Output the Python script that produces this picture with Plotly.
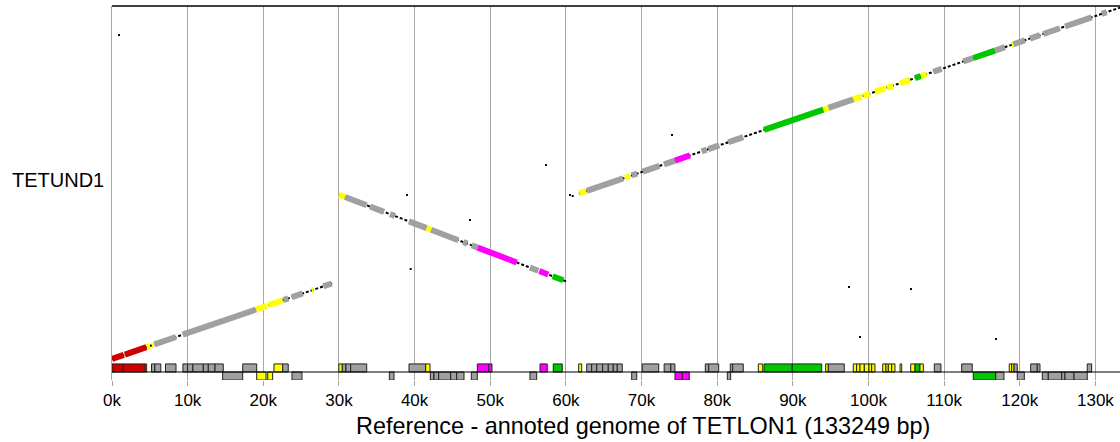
import plotly.graph_objects as go

# ---------------- data ----------------
ref_length = 133249
ref_title = "Reference - annoted genome of TETLON1 (133249 bp)"
query_name = "TETUND1"
query_label_pos = 68800

tick_vals = [0, 10000, 20000, 30000, 40000, 50000, 60000, 70000, 80000, 90000, 100000, 110000, 120000, 130000]
tick_text = ["0k", "10k", "20k", "30k", "40k", "50k", "60k", "70k", "80k", "90k", "100k", "110k", "120k", "130k"]

# synteny blocks (reference bp -> query bp)
block_ref_start = [0, 30010, 61730]
block_ref_end = [29100, 60100, 133249]
block_q_start = [0, 63200, 63630]
block_q_end = [29100, 29790, 135150]

# gene annotation track of the reference (start, end, strand, class)
ann_start = [0, 1490, 4400, 5220, 5660, 7070, 9370, 9980, 10690, 12070, 12730, 13620, 17280,
             21410, 22560, 29990, 30440, 30930, 31550, 39260, 41470, 48290, 49800, 56580, 58330,
             61690, 62750, 63410, 64070, 64860, 65600, 66260, 66790, 70100, 72990, 73880,
             78430, 78880, 81730, 82050, 85440, 86190, 89930, 94340, 94690,
             97990, 98440, 98880, 99450, 100070, 100420, 101880, 102310, 102620, 103070,
             104170, 105580, 106150, 106810, 108700, 112320, 118610, 118930, 119240,
             121440, 122310, 128920,
             14630, 19130, 20580, 23790, 36660, 42080, 42560, 43190, 44770, 45560, 47500,
             55250, 68700, 74420, 75380, 81340, 113850, 116820, 119670,
             122980, 123770, 125540, 125980, 127170]
ann_end = [1490, 4400, 4580, 5660, 6450, 8460, 9980, 10690, 12070, 12730, 13620, 14710, 19130,
           22560, 23300, 30440, 30930, 31550, 33670, 41470, 42040, 49800, 50230, 57540, 59520,
           62090, 63410, 64070, 64860, 65600, 66260, 66790, 67450, 72270, 73880, 74410,
           78880, 80200, 82050, 83450, 86020, 89930, 93820, 94690, 96800,
           98440, 98880, 99450, 100070, 100420, 100860, 102310, 102620, 103070, 103500,
           104390, 106150, 106810, 107250, 109580, 113720, 118930, 119240, 119670,
           122310, 122670, 129500,
           17280, 20360, 21240, 25110, 37280, 42560, 43190, 44770, 45560, 46530, 48290,
           56140, 69360, 75380, 76310, 81780, 116820, 117910, 120600,
           123770, 125540, 125980, 127170, 128920]
ann_strand = [1] * 67 + [-1] * 24
ann_class = ["red", "red", "yellow", "grey", "grey", "grey", "grey", "grey", "grey", "grey", "grey", "grey", "grey",
             "yellow", "grey", "yellow", "grey", "grey", "grey", "grey", "yellow", "magenta", "magenta", "magenta", "green",
             "yellow", "grey", "grey", "grey", "grey", "grey", "grey", "grey", "grey", "grey", "grey",
             "grey", "grey", "grey", "grey", "yellow", "green", "green", "yellow", "grey",
             "yellow", "yellow", "yellow", "yellow", "yellow", "yellow", "yellow", "yellow", "yellow", "yellow",
             "yellow", "yellow", "green", "yellow", "grey", "grey", "yellow", "yellow", "grey",
             "grey", "grey", "grey",
             "grey", "yellow", "yellow", "grey", "grey", "grey", "grey", "grey", "grey", "grey", "grey",
             "grey", "grey", "magenta", "magenta", "grey", "green", "grey", "grey",
             "grey", "grey", "grey", "grey", "grey"]

# gene matches drawn on the diagonal (reference bp, query bp, class)
diag_ref_start = [0, 1700, 4590, 5250, 5590, 9350, 19040, 20660, 22640, 23750, 26400, 27930,
                  30010, 30800, 34110, 36750, 39260, 41600, 42170, 46440, 47550, 48340, 55250, 56480, 58250,
                  61770, 62750, 67810, 68700, 70150, 72970, 74420, 77950, 78830, 81470, 86190, 94030, 94690,
                  97990, 99310, 100860, 102410, 104170, 106150, 106900, 108570, 112540, 113860, 116720,
                  118930, 119140, 121350, 123110, 125980, 130830]
diag_ref_end = [1550, 4550, 5020, 5460, 8460, 19040, 20450, 22560, 23300, 25210, 26610, 29040,
                30800, 33670, 35960, 37410, 41600, 42170, 45780, 46970, 48340, 53500, 56350, 57670, 59660,
                62660, 67590, 68480, 69440, 72350, 74420, 76400, 78610, 80280, 83450, 94030, 94690, 97990,
                99100, 100200, 102180, 103280, 105490, 106900, 107690, 109680, 113860, 116720, 118040,
                119140, 120690, 122670, 125310, 129500, 131490]
diag_q_start = [0, 1700, 4590, 5250, 5590, 9350, 19040, 20660, 22640, 23750, 26400, 27930,
                63200, 62320, 58650, 55720, 52930, 50340, 49700, 44960, 43730, 42850, 35180, 33820, 31850,
                63670, 64650, 69710, 70600, 72050, 74870, 76320, 79850, 80730, 83370, 88090, 95930, 96590,
                99890, 101210, 102760, 104310, 106070, 108050, 108800, 110470, 114440, 115760, 118620,
                120830, 121040, 123250, 125010, 127880, 132730]
diag_q_end = [1550, 4550, 5020, 5460, 8460, 19040, 20450, 22560, 23300, 25210, 26610, 29040,
              62320, 59140, 56600, 54990, 50340, 49700, 45700, 44370, 42850, 37130, 33960, 32500, 30290,
              64560, 69490, 70380, 71340, 74250, 76320, 78300, 80510, 82180, 85350, 95930, 96590, 99890,
              101000, 102100, 104080, 105180, 107390, 108800, 109590, 111580, 115760, 118620, 119940,
              121040, 122590, 124570, 127210, 131400, 133390]
diag_class = ["red", "red", "yellow", "yellow", "grey", "grey", "yellow", "yellow", "grey", "grey", "yellow", "grey",
              "yellow", "grey", "grey", "grey", "grey", "yellow", "grey", "grey", "grey", "magenta", "grey", "magenta", "green",
              "yellow", "grey", "yellow", "grey", "grey", "grey", "magenta", "grey", "grey", "grey", "green", "yellow", "grey",
              "yellow", "yellow", "yellow", "yellow", "yellow", "green", "yellow", "grey", "grey", "green", "grey",
              "yellow", "grey", "grey", "grey", "grey", "grey"]

# isolated short matches
dot_ref = [930, 39000, 47320, 39480, 57370, 74030, 60540, 60900, 97420, 105620, 98880, 116850]
dot_q = [124600, 63100, 53460, 34600, 74600, 86150, 63080, 62690, 27700, 26900, 8460, 7700]

# ---------------- style ----------------
COLORS = {"red": "#CC0000", "grey": "#A0A0A0", "yellow": "#FFFF00",
          "magenta": "#FF00FF", "green": "#00C800"}
FONT = "Liberation Sans, Arial, sans-serif"
GRID = "#A8A8A8"
TRACK_CENTER = -5000
TRACK_HALF = 3100
Y_RANGE = [-8080, 135770]

fig = go.Figure()

# block alignment lines (dashed black)
for rs, re_, qs, qe in zip(block_ref_start, block_ref_end, block_q_start, block_q_end):
    fig.add_trace(go.Scatter(x=[rs, re_], y=[qs, qe], mode="lines",
                             line=dict(color="black", width=2, dash="3px,2px"),
                             hoverinfo="skip", showlegend=False))

# coloured gene matches on the diagonal
for cls, col in COLORS.items():
    xs, ys = [], []
    for a, b, c, d, k in zip(diag_ref_start, diag_ref_end, diag_q_start, diag_q_end, diag_class):
        if k == cls:
            xs += [a, b, None]
            ys += [c, d, None]
    if xs:
        fig.add_trace(go.Scatter(x=xs, y=ys, mode="lines",
                                 line=dict(color=col, width=6),
                                 hoverinfo="skip", showlegend=False))

# isolated dots
fig.add_trace(go.Scatter(x=dot_ref, y=dot_q, mode="markers",
                         marker=dict(color="black", size=2, symbol="square"),
                         hoverinfo="skip", showlegend=False))

# annotation track
shapes = []
for s, e, st, k in zip(ann_start, ann_end, ann_strand, ann_class):
    y0 = TRACK_CENTER
    y1 = TRACK_CENTER + st * TRACK_HALF
    shapes.append(dict(type="rect", xref="x", yref="y", x0=s, x1=e,
                       y0=min(y0, y1), y1=max(y0, y1),
                       fillcolor=COLORS[k], line=dict(color="#222222", width=1), layer="above"))
shapes.append(dict(type="line", xref="x", yref="y", x0=0, x1=ref_length,
                   y0=TRACK_CENTER, y1=TRACK_CENTER, line=dict(color="black", width=1)))
shapes.append(dict(type="line", xref="paper", yref="paper", x0=0, x1=1, y0=1, y1=1,
                   line=dict(color="black", width=1.5)))

fig.update_layout(
    width=1120, height=442,
    margin=dict(l=112, r=0, t=6, b=62),
    paper_bgcolor="white", plot_bgcolor="white",
    shapes=shapes,
    font=dict(family=FONT, color="black"),
    xaxis=dict(range=[0, ref_length], tickvals=tick_vals, ticktext=tick_text,
               showgrid=True, gridcolor=GRID, gridwidth=1, zeroline=False,
               ticks="outside", ticklen=5, tickcolor=GRID, showline=False,
               tickfont=dict(size=17, family=FONT, color="black")),
    yaxis=dict(range=Y_RANGE, showgrid=False, zeroline=False, showticklabels=False,
               ticks="", showline=True, linecolor=GRID, linewidth=1),
    annotations=[
        dict(text=query_name, xref="paper", yref="y", x=0, y=query_label_pos,
             xanchor="right", yanchor="middle", xshift=-6, showarrow=False,
             font=dict(size=20, family=FONT, color="black")),
        dict(text=ref_title, xref="paper", yref="paper", x=0.527, y=-0.1217,
             xanchor="center", yanchor="middle", showarrow=False,
             font=dict(size=23.4, family=FONT, color="black")),
    ],
)

fig.write_html("out.html")
